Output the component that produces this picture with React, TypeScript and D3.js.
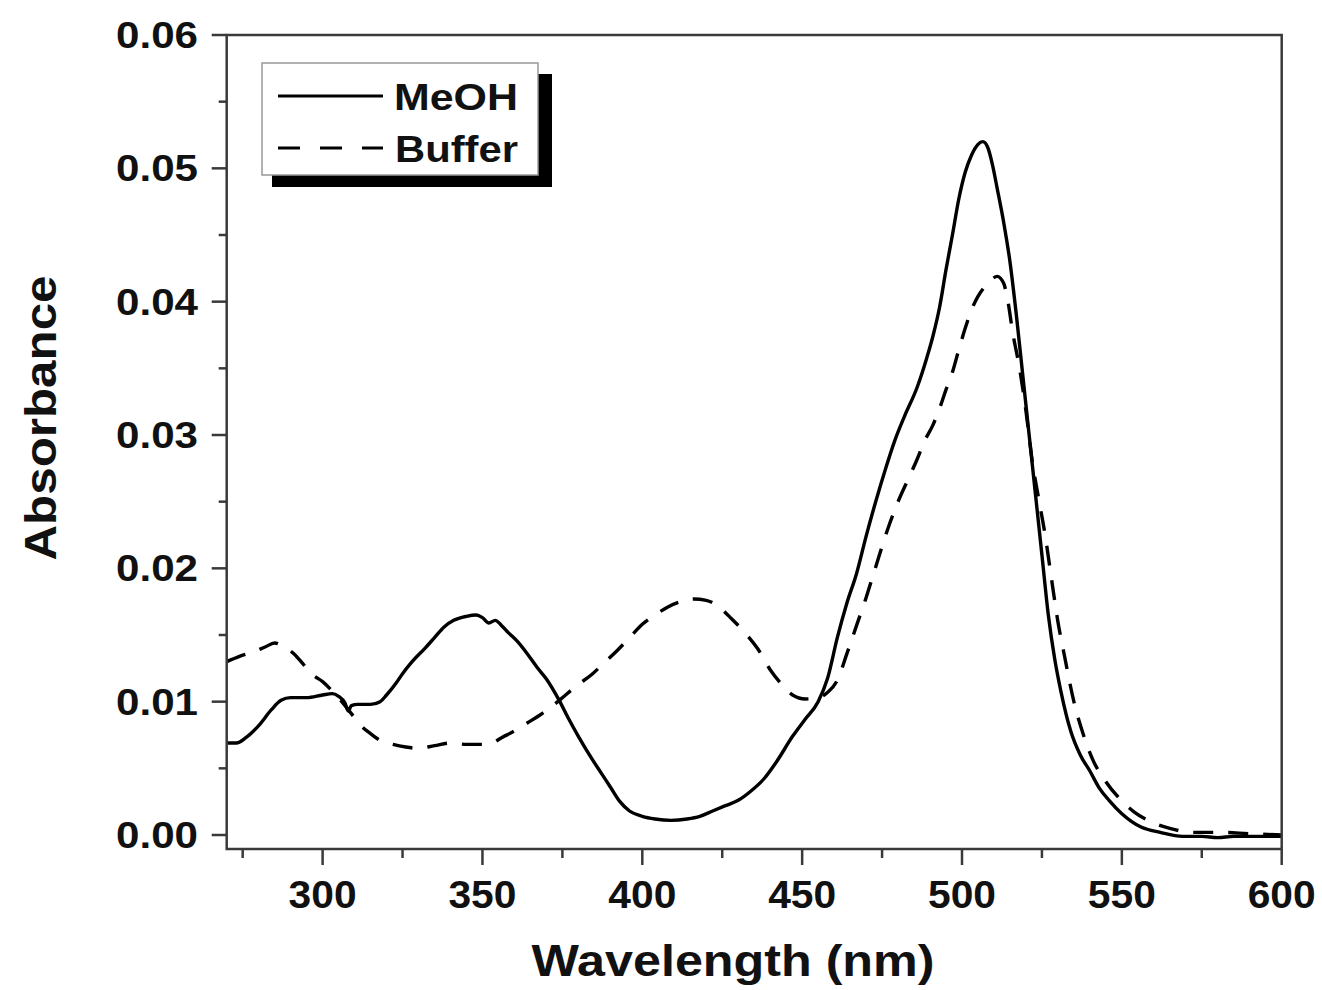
import React from "react";
import * as d3 from "d3";

const meohWl = [270, 273, 276, 280, 284, 287, 290, 295, 300, 303, 305, 307, 308, 309, 311, 315, 318, 320, 323, 325, 328, 332, 335, 338, 341, 345, 348, 350, 352, 354, 356, 358, 361, 364, 367, 370, 374, 377, 380, 384, 387, 390, 393, 396, 400, 404, 409, 414, 418, 422, 426, 430, 434, 438, 442, 447, 451, 455, 458, 461, 464, 467, 470, 473, 476, 479, 482, 486, 489, 491, 493, 495, 497, 499, 501, 503, 505, 506.5, 508, 509.5, 511, 513, 515, 517, 519, 521, 523, 525, 527, 529, 531, 534, 537, 540, 543, 546, 550, 556, 562, 569, 575, 580, 585, 590, 595, 600];
const meohAbs = [0.0069, 0.0069, 0.0073, 0.0082, 0.0094, 0.0101, 0.0103, 0.0103, 0.0105, 0.0106, 0.0104, 0.0099, 0.0093, 0.0097, 0.0098, 0.0098, 0.0100, 0.0105, 0.0114, 0.0121, 0.0130, 0.0140, 0.0148, 0.0156, 0.0161, 0.0164, 0.0165, 0.0163, 0.0159, 0.0161, 0.0157, 0.0152, 0.0145, 0.0136, 0.0126, 0.0117, 0.0101, 0.0087, 0.0074, 0.0058, 0.0047, 0.0036, 0.0025, 0.0018, 0.0014, 0.0012, 0.0011, 0.0012, 0.0014, 0.0018, 0.0022, 0.0026, 0.0033, 0.0042, 0.0055, 0.0074, 0.0087, 0.0100, 0.0118, 0.0148, 0.0174, 0.0196, 0.0224, 0.0250, 0.0274, 0.0296, 0.0314, 0.0336, 0.0358, 0.0375, 0.0396, 0.0424, 0.0450, 0.0477, 0.0497, 0.0510, 0.0518, 0.0520, 0.0516, 0.0503, 0.0485, 0.0460, 0.0430, 0.0390, 0.0345, 0.0300, 0.0255, 0.0210, 0.0165, 0.0132, 0.0107, 0.0078, 0.0060, 0.0048, 0.0035, 0.0026, 0.0016, 0.0006, 0.0002, -0.0001, -0.0001, -0.0002, -0.0001, -0.0001, -0.0001, -0.0001];

const bufWl = [270, 274, 278, 282, 285, 288, 291, 294, 297, 300, 303, 306, 309, 312, 315, 318, 322, 326, 330, 335, 340, 345, 350, 353, 356, 360, 364, 368, 372, 376, 380, 384, 388, 392, 396, 400, 404, 408, 412, 416, 420, 424, 428, 432, 436, 440, 444, 447, 451, 455, 458, 461, 464, 467, 470, 473, 477, 480, 483, 486, 488, 491, 493, 495, 497, 499, 501, 503, 505, 507, 509, 511, 513, 514, 516, 518, 520, 522, 524, 526, 528, 530, 532, 535, 538, 541, 545, 549, 554, 559, 565, 572, 580, 590, 600];
const bufAbs = [0.0130, 0.0134, 0.0137, 0.0141, 0.0144, 0.0141, 0.0136, 0.0128, 0.0120, 0.0115, 0.0108, 0.0100, 0.0091, 0.0082, 0.0076, 0.0071, 0.0068, 0.0066, 0.0065, 0.0067, 0.0069, 0.0068, 0.0068, 0.0069, 0.0073, 0.0078, 0.0084, 0.0090, 0.0097, 0.0105, 0.0113, 0.0120, 0.0129, 0.0138, 0.0148, 0.0158, 0.0165, 0.0171, 0.0175, 0.0177, 0.0176, 0.0171, 0.0162, 0.0152, 0.0140, 0.0124, 0.0112, 0.0105, 0.0102, 0.0103, 0.0107, 0.0116, 0.0136, 0.0157, 0.0178, 0.0201, 0.0231, 0.0250, 0.0266, 0.0282, 0.0294, 0.0308, 0.0320, 0.0334, 0.0347, 0.0364, 0.0380, 0.0394, 0.0404, 0.0411, 0.0416, 0.0419, 0.0414, 0.0405, 0.0375, 0.0350, 0.0318, 0.0280, 0.0252, 0.0225, 0.0192, 0.0160, 0.0135, 0.0100, 0.0075, 0.0056, 0.0040, 0.0028, 0.0017, 0.0010, 0.0005, 0.0002, 0.0002, 0.0001, 0.0000];

const xMajorTicks = [300, 350, 400, 450, 500, 550, 600];
const xMinorTicks = [275, 325, 375, 425, 475, 525, 575];
const yMajorTicks = [0, 0.01, 0.02, 0.03, 0.04, 0.05, 0.06];
const yMinorTicks = [0.005, 0.015, 0.025, 0.035, 0.045, 0.055];
const seriesNames = ["MeOH", "Buffer"];

const FONT = "'Liberation Sans', Arial, Helvetica, sans-serif";

export default function App() {
  const left = 226.7, right = 1281.7, top = 35, bottom = 849;
  const x = d3.scaleLinear().domain([270, 600]).range([left, right]);
  const y = d3.scaleLinear().domain([0, 0.06]).range([835, 35]);

  const line = d3
    .line<[number, number]>()
    .x((d) => x(d[0]))
    .y((d) => y(d[1]))
    .curve(d3.curveMonotoneX);

  const meohPts = meohWl.map((w, i) => [w, meohAbs[i]] as [number, number]);
  const bufPts = bufWl.map((w, i) => [w, bufAbs[i]] as [number, number]);

  const axisColor = "#3a3a3a";

  return (
    <svg
      width={1322}
      height={990}
      style={{ position: "absolute", left: 0, top: 0, background: "#fff" }}
      fontFamily={FONT}
    >
      <rect x={0} y={0} width={1322} height={990} fill="#fff" />
      {/* data */}
      <path d={line(meohPts) || ""} fill="none" stroke="#000" strokeWidth={3.4} strokeLinejoin="round" />
      <path d={line(bufPts) || ""} fill="none" stroke="#000" strokeWidth={3.4} strokeDasharray="20,15" />

      {/* frame */}
      <rect x={left} y={top} width={right - left} height={bottom - top} fill="none" stroke={axisColor} strokeWidth={2.5} />

      {/* y ticks */}
      {yMajorTicks.map((t) => (
        <g key={"ym" + t}>
          <line x1={left - 15} x2={left} y1={y(t)} y2={y(t)} stroke={axisColor} strokeWidth={2.5} />
          <text x={198} y={y(t) + 13} textAnchor="end" fontSize={37} fontWeight="bold" fill="#111" textLength={82} lengthAdjust="spacingAndGlyphs">
            {t.toFixed(2)}
          </text>
        </g>
      ))}
      {yMinorTicks.map((t) => (
        <line key={"yn" + t} x1={left - 8} x2={left} y1={y(t)} y2={y(t)} stroke={axisColor} strokeWidth={2.5} />
      ))}

      {/* x ticks */}
      {xMajorTicks.map((t) => (
        <g key={"xm" + t}>
          <line x1={x(t)} x2={x(t)} y1={bottom} y2={bottom + 16} stroke={axisColor} strokeWidth={2.5} />
          <text x={x(t)} y={908} textAnchor="middle" fontSize={38} fontWeight="bold" fill="#111" textLength={68} lengthAdjust="spacingAndGlyphs">
            {t}
          </text>
        </g>
      ))}
      {xMinorTicks.map((t) => (
        <line key={"xn" + t} x1={x(t)} x2={x(t)} y1={bottom} y2={bottom + 9} stroke={axisColor} strokeWidth={2.5} />
      ))}

      {/* axis titles */}
      <text x={733} y={976} textAnchor="middle" fontSize={45} fontWeight="bold" fill="#111" textLength={403} lengthAdjust="spacingAndGlyphs">
        Wavelength (nm)
      </text>
      <text
        transform={`translate(56, 418) rotate(-90)`}
        textAnchor="middle"
        fontSize={44}
        fontWeight="bold"
        fill="#111"
        textLength={285}
        lengthAdjust="spacingAndGlyphs"
      >
        Absorbance
      </text>

      {/* legend */}
      <rect x={272} y={74} width={280} height={113} fill="#000" />
      <rect x={262} y={63} width={276} height={112} fill="#fff" stroke="#999" strokeWidth={1.5} />
      <line x1={278} x2={383} y1={96} y2={96} stroke="#000" strokeWidth={3.2} />
      <text x={394} y={110} fontSize={37} fontWeight="bold" fill="#111" textLength={124} lengthAdjust="spacingAndGlyphs">
        {seriesNames[0]}
      </text>
      <line x1={278} x2={383} y1={148} y2={148} stroke="#000" strokeWidth={3.2} strokeDasharray="22,20" />
      <text x={395} y={162} fontSize={37} fontWeight="bold" fill="#111" textLength={123} lengthAdjust="spacingAndGlyphs">
        {seriesNames[1]}
      </text>
    </svg>
  );
}
